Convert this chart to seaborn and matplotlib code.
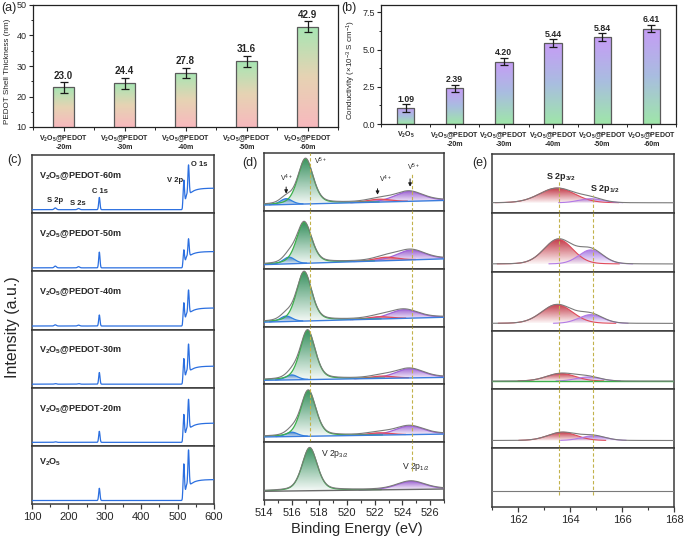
import numpy as np
import pandas as pd
import matplotlib
matplotlib.use("Agg")
import matplotlib.pyplot as plt
import seaborn as sns
from matplotlib.colors import LinearSegmentedColormap, to_rgba
from matplotlib.ticker import MultipleLocator, FormatStrFormatter

# ------------------------------------------------------------------ data
# (a) PEDOT shell thickness
thick_labels = ["V$_\\mathbf{2}$O$_\\mathbf{5}$@PEDOT\n-20m",
                "V$_\\mathbf{2}$O$_\\mathbf{5}$@PEDOT\n-30m",
                "V$_\\mathbf{2}$O$_\\mathbf{5}$@PEDOT\n-40m",
                "V$_\\mathbf{2}$O$_\\mathbf{5}$@PEDOT\n-50m",
                "V$_\\mathbf{2}$O$_\\mathbf{5}$@PEDOT\n-60m"]
thick_values = [23.0, 24.4, 27.8, 31.6, 42.9]
thick_errors = [1.8, 1.8, 1.7, 1.8, 1.8]

# (b) conductivity
cond_labels = ["V$_\\mathbf{2}$O$_\\mathbf{5}$"] + thick_labels
cond_values = [1.09, 2.39, 4.20, 5.44, 5.84, 6.41]
cond_errors = [0.25, 0.25, 0.25, 0.25, 0.25, 0.25]

# stacked spectra, top to bottom
sample_names = ["V$_\\mathbf{2}$O$_\\mathbf{5}$@PEDOT-60m",
                "V$_\\mathbf{2}$O$_\\mathbf{5}$@PEDOT-50m",
                "V$_\\mathbf{2}$O$_\\mathbf{5}$@PEDOT-40m",
                "V$_\\mathbf{2}$O$_\\mathbf{5}$@PEDOT-30m",
                "V$_\\mathbf{2}$O$_\\mathbf{5}$@PEDOT-20m",
                "V$_\\mathbf{2}$O$_\\mathbf{5}$"]

# (c) survey spectra: peak positions (eV), widths and peak tops read per panel
surv_pos = [164, 228, 285, 517, 524.5, 530]          # S2p, S2s, C1s, V2p3/2, V2p1/2, O1s
surv_sig = [3.0, 3.0, 1.8, 1.8, 1.6, 1.8]
surv_base = [0.06, 0.06, 0.06, 0.06, 0.06, 0.06]
surv_plateau = [0.43, 0.34, 0.37, 0.37, 0.39, 0.42]
surv_s2p = [0.09, 0.09, 0.08, 0.07, 0.07, 0.06]
surv_s2s = [0.08, 0.08, 0.075, 0.07, 0.06, 0.06]
surv_c1s = [0.27, 0.33, 0.25, 0.26, 0.25, 0.27]
surv_v2p = [0.57, 0.37, 0.46, 0.50, 0.54, 0.69]
surv_v2p12 = [0.31, 0.25, 0.27, 0.28, 0.29, 0.32]
surv_o1s = [0.83, 0.56, 0.68, 0.75, 0.80, 0.93]

# (d) V 2p fitted components (centre eV, height above baseline)
d_bl_left = [0.10, 0.07, 0.075, 0.07, 0.09, 0.15]
d_bl_right = [0.18, 0.17, 0.16, 0.12, 0.14, 0.19]
d_v4_32_c = [515.6, 515.8, 515.6, 516.0, 516.0, 516.0]
d_v4_32_h = [0.10, 0.115, 0.095, 0.085, 0.075, 0.0]
d_v5_32_c = [517.0, 516.9, 516.9, 517.15, 517.2, 517.3]
d_v5_32_h = [0.78, 0.71, 0.85, 0.85, 0.79, 0.74]
d_v4_12_c = [522.3, 522.8, 522.3, 522.5, 522.3, 522.5]
d_v4_12_h = [0.05, 0.06, 0.04, 0.04, 0.04, 0.0]
d_v5_12_c = [524.45, 524.6, 524.1, 524.5, 524.5, 524.6]
d_v5_12_h = [0.17, 0.17, 0.15, 0.16, 0.15, 0.14]

# (e) S 2p fitted components
e_bl = [0.17, 0.13, 0.12, 0.14, 0.13, 0.27]
e_s32_c = [163.5, 163.55, 163.5, 163.65, 163.7, 163.6]
e_s32_h = [0.25, 0.42, 0.32, 0.13, 0.14, 0.0]
e_s32_w = [1.6, 1.3, 1.4, 1.3, 1.3, 1.3]
e_s12_c = [164.8, 164.8, 164.8, 164.7, 164.9, 164.9]
e_s12_h = [0.07, 0.24, 0.15, 0.07, 0.08, 0.0]
e_s12_w = [1.1, 1.1, 1.1, 1.1, 1.1, 1.1]

# ------------------------------------------------------------------ style
sns.set_theme(style="ticks")
plt.rcParams['font.family'] = ['Liberation Sans', 'DejaVu Sans']
plt.rcParams['mathtext.fontset'] = 'custom'
plt.rcParams['mathtext.rm'] = 'Liberation Sans'
plt.rcParams['mathtext.it'] = 'Liberation Sans:italic'
plt.rcParams['mathtext.bf'] = 'Liberation Sans:bold'
plt.rcParams['axes.linewidth'] = 0.9

W, H = 685, 540
fig = plt.figure(figsize=(W / 100, H / 100), dpi=100)


def ax_px(l, t, r, b):
    return fig.add_axes([l / W, 1 - b / H, (r - l) / W, (b - t) / H])


def stack(l, t, r, b, n=6):
    h = (b - t) / n
    return [ax_px(l, t + i * h, r, t + (i + 1) * h) for i in range(n)]


def pv(x, c, fwhm, eta):
    u = (x - c) / fwhm
    return eta / (1 + 4 * u ** 2) + (1 - eta) * np.exp(-4 * np.log(2) * u ** 2)


def grad_fill(ax, x, y0, y1, color, a0=0.04, a1=0.95, z=1):
    poly = ax.fill_between(x, y0, y1, facecolor='none', edgecolor='none', zorder=z)
    path = poly.get_paths()[0]
    c = to_rgba(color)
    cmap = LinearSegmentedColormap.from_list('gf', [(c[0], c[1], c[2], a0), (c[0], c[1], c[2], a1)])
    ymin, ymax = float(np.min(y0)), float(np.max(y1))
    im = ax.imshow(np.linspace(0, 1, 128).reshape(-1, 1), extent=[x.min(), x.max(), ymin, ymax],
                   origin='lower', cmap=cmap, aspect='auto', interpolation='bilinear', zorder=z)
    im.set_clip_path(path, transform=ax.transData)


def bar_gradient(ax, colors, ybottom):
    cmap = LinearSegmentedColormap.from_list('bar', colors)
    grad = np.linspace(0, 1, 256).reshape(-1, 1)
    for p in list(ax.patches):
        x0, w = p.get_x(), p.get_width()
        y1 = p.get_y() + p.get_height()
        y0 = max(p.get_y(), ybottom)
        im = ax.imshow(grad, extent=[x0, x0 + w, y0, y1], origin='lower', cmap=cmap,
                       aspect='auto', interpolation='bilinear', zorder=1.5)
        im.set_clip_path(p)
        p.set_facecolor('none')
        p.set_zorder(2)


def line(ax, x, y, color, lw, z=3):
    sns.lineplot(x=x, y=y, ax=ax, color=color, linewidth=lw, estimator=None,
                 legend=False, zorder=z)


SPINE_C = '#3a3a3a'


def style_stack(axes, xlim, major, minor, labelsize=8):
    for i, ax in enumerate(axes):
        ax.set_xlim(*xlim)
        ax.set_ylim(0, 1)
        ax.set_aspect('auto')
        ax.set_yticks([])
        ax.set_ylabel('')
        ax.set_xlabel('')
        for s in ax.spines.values():
            s.set_color(SPINE_C)
            s.set_linewidth(1.1)
        ax.xaxis.set_major_locator(MultipleLocator(major))
        ax.xaxis.set_minor_locator(MultipleLocator(minor))
        if i < len(axes) - 1:
            ax.tick_params(axis='x', which='both', bottom=False, labelbottom=False)
        else:
            ax.tick_params(axis='x', which='major', direction='out', length=3.5, width=0.9,
                           labelsize=labelsize, pad=2, color=SPINE_C)
            ax.tick_params(axis='x', which='minor', direction='out', length=2, width=0.8,
                           color=SPINE_C)


def style_bar_axes(ax):
    ax.tick_params(axis='both', which='major', direction='out', length=3, width=0.8, pad=1.5)
    ax.tick_params(axis='y', which='major', labelsize=6.5)
    ax.tick_params(axis='both', which='minor', direction='out', length=1.8, width=0.7)
    for s in ax.spines.values():
        s.set_color('#222222')


# ------------------------------------------------------------------ (a)
axa = ax_px(33, 5, 338, 127)
df_a = pd.DataFrame({'label': thick_labels, 'value': thick_values})
sns.barplot(data=df_a, x='label', y='value', ax=axa, color='white', saturation=1,
            width=0.35, edgecolor='#5a5a5a', linewidth=0.9, errorbar=None)
bar_gradient(axa, ['#f8b9be', '#e6d3b3', '#a6e6b3'], 10)
axa.errorbar(range(len(thick_values)), thick_values, yerr=thick_errors, fmt='none',
             ecolor='k', elinewidth=0.9, capsize=3.2, capthick=0.9, zorder=4)
for i, (v, e) in enumerate(zip(thick_values, thick_errors)):
    axa.text(i, v + e + 0.4, f"{v:.1f}", ha='center', va='bottom', fontsize=7, fontweight='bold')
axa.set_xlim(-0.5, 4.5)
axa.set_ylim(10, 50)
axa.set_aspect('auto')
axa.yaxis.set_major_locator(MultipleLocator(10))
axa.yaxis.set_minor_locator(MultipleLocator(5))
axa.xaxis.set_minor_locator(MultipleLocator(0.5))
style_bar_axes(axa)
axa.set_xticks(range(5))
axa.set_xticklabels(thick_labels, fontsize=5, fontweight='bold', linespacing=1.0)
axa.set_xlabel('')
axa.set_ylabel('PEDOT Shell Thickness (nm)', fontsize=5.9)
axa.yaxis.set_label_coords(-0.072, 0.46)
fig.text(9 / W, 1 - 8 / H, '(a)', fontsize=9, ha='center', va='center')

# ------------------------------------------------------------------ (b)
axb = ax_px(381, 5, 676, 124)
df_b = pd.DataFrame({'label': cond_labels, 'value': cond_values})
sns.barplot(data=df_b, x='label', y='value', ax=axb, color='white', saturation=1,
            width=0.35, edgecolor='#5a5a5a', linewidth=0.9, errorbar=None)
bar_gradient(axb, ['#9fe6a9', '#a9bde0', '#c69cf6'], 0)
axb.errorbar(range(len(cond_values)), cond_values, yerr=cond_errors, fmt='none',
             ecolor='k', elinewidth=0.9, capsize=3.0, capthick=0.9, zorder=4)
for i, (v, e) in enumerate(zip(cond_values, cond_errors)):
    axb.text(i, v + e + 0.03, f"{v:.2f}", ha='center', va='bottom', fontsize=6.3, fontweight='bold')
axb.set_xlim(-0.5, 5.5)
axb.set_ylim(0, 8.0)
axb.set_aspect('auto')
axb.yaxis.set_major_locator(MultipleLocator(2.5))
axb.yaxis.set_minor_locator(MultipleLocator(1.25))
axb.yaxis.set_major_formatter(FormatStrFormatter('%.1f'))
axb.xaxis.set_minor_locator(MultipleLocator(0.5))
style_bar_axes(axb)
axb.set_xticks(range(6))
axb.set_xticklabels(cond_labels, fontsize=5, fontweight='bold', linespacing=1.0)
axb.set_xlabel('')
axb.set_ylabel('Conductivity (\u00d710$^{-3}$ S cm$^{-1}$)', fontsize=5.8)
axb.yaxis.set_label_coords(-0.078, 0.455)
fig.text(349 / W, 1 - 8 / H, '(b)', fontsize=9, ha='center', va='center')

# ------------------------------------------------------------------ (c) survey
axc = stack(32, 155, 214, 504)
xs = np.arange(100, 600.01, 0.5)


def surv_bkg(x, base, plat):
    return base + (plat - base) * np.clip(1 - np.exp(-(np.asarray(x) - 513) / 15), 0, None)


for i, ax in enumerate(axc):
    base, plat = surv_base[i], surv_plateau[i]
    bkg = surv_bkg(xs, base, plat)
    y = bkg.copy()
    tops = [surv_s2p[i], surv_s2s[i], surv_c1s[i], surv_v2p[i], surv_v2p12[i], surv_o1s[i]]
    for pos, sg, top in zip(surv_pos, surv_sig, tops):
        h = max(top - float(surv_bkg(pos, base, plat)), 0)
        y = y + h * np.exp(-0.5 * ((xs - pos) / sg) ** 2)
    line(ax, xs, y, '#2b6fe0', 0.9)
    ytxt = 0.71 if i == 5 else 0.64
    ax.text(119, ytxt, sample_names[i], fontsize=6.5, fontweight='bold', ha='left', va='center')
style_stack(axc, (100, 600), 100, 50)
top = axc[0]
for txt, xx, yy in [('S 2p', 164.6, 0.21), ('S 2s', 226, 0.17), ('C 1s', 287, 0.38),
                    ('V 2p', 493, 0.57), ('O 1s', 559, 0.83)]:
    top.text(xx, yy, txt, fontsize=5.5, fontweight='bold', ha='center', va='center')
fig.text(15 / W, 1 - 160 / H, '(c)', fontsize=9, ha='center', va='center')
fig.text(13 / W, 1 - 327 / H, 'Intensity (a.u.)', fontsize=11.5, rotation=90, ha='center', va='center')

# ------------------------------------------------------------------ (d) V 2p
axd = stack(264, 153, 444, 500)
xd = np.linspace(514, 527, 651)
col_blue, col_green, col_red, col_purple = '#3a78d8', '#2e8b57', '#e0506a', '#9a5fd0'
line_blue, line_green, line_red, line_purple = '#2f7fe0', '#3cb04b', '#e04a5a', '#a064d8'
for i, ax in enumerate(axd):
    bl = d_bl_left[i] + (d_bl_right[i] - d_bl_left[i]) * (xd - 514) / 13
    comps = [(d_v5_12_c[i], d_v5_12_h[i], 2.4, 0.3, col_purple, line_purple),
             (d_v4_12_c[i], d_v4_12_h[i], 2.0, 0.2, col_red, line_red),
             (d_v4_32_c[i], d_v4_32_h[i], 1.0, 0.2, col_blue, line_blue),
             (d_v5_32_c[i], d_v5_32_h[i], 1.3, 0.35, col_green, line_green)]
    env = bl.copy()
    for c, h, fw, eta, fc, lc in comps:
        if h <= 0:
            continue
        comp = h * pv(xd, c, fw, eta)
        env = env + comp
        m = comp > 0.004
        grad_fill(ax, xd[m], bl[m], bl[m] + comp[m], fc)
        line(ax, xd[m], bl[m] + comp[m], lc, 0.9, z=3)
    line(ax, xd, bl, '#3b7ddd' if i < 5 else '#6a6a6a', 1.0, z=3.5)
    line(ax, xd, env + 0.008, '#7a7a7a', 0.8, z=4)
    if i < 5:
        ax.axvline(517.35, color='#c2b24a', lw=0.8, ls=(0, (3, 2)), zorder=5)
        ax.axvline(524.7, color='#c2b24a', lw=0.8, ls=(0, (3, 2)), zorder=5,
                   ymax=0.66 if i == 0 else 1)
    else:
        ax.axvline(524.7, color='#c2b24a', lw=0.8, ls=(0, (3, 2)), zorder=5, ymin=0.5)
style_stack(axd, (514, 527), 2, 1)
d0 = axd[0]
d0.text(515.6, 0.56, 'V$^{4+}$', fontsize=5, ha='center', va='center')
d0.annotate('', xy=(515.6, 0.25), xytext=(515.6, 0.46),
            arrowprops=dict(arrowstyle='-|>', color='k', lw=0.7, mutation_scale=5))
d0.text(518.1, 0.85, 'V$^{5+}$', fontsize=5, ha='center', va='center')
d0.text(522.8, 0.54, 'V$^{4+}$', fontsize=5, ha='center', va='center')
d0.annotate('', xy=(522.2, 0.23), xytext=(522.2, 0.43),
            arrowprops=dict(arrowstyle='-|>', color='k', lw=0.7, mutation_scale=5))
d0.text(524.8, 0.75, 'V$^{5+}$', fontsize=5, ha='center', va='center')
d0.annotate('', xy=(524.55, 0.37), xytext=(524.55, 0.6),
            arrowprops=dict(arrowstyle='-|>', color='k', lw=0.7, mutation_scale=5))
d5 = axd[5]
d5.text(518.15, 0.8, 'V 2p$_{3/2}$', fontsize=6.2, ha='left', va='center')
d5.text(523.95, 0.57, 'V 2p$_{1/2}$', fontsize=6.2, ha='left', va='center')
fig.text(250 / W, 1 - 163 / H, '(d)', fontsize=9, ha='center', va='center')
fig.text(357 / W, 1 - 529 / H, 'Binding Energy (eV)', fontsize=10.5, ha='center', va='center')

# ------------------------------------------------------------------ (e) S 2p
axe = stack(492, 154, 674, 507)
xe = np.linspace(161, 168, 561)
for i, ax in enumerate(axe):
    bl = np.full_like(xe, e_bl[i])
    comps = [(e_s32_c[i], e_s32_h[i], e_s32_w[i], '#c0303f', '#e04a5a'),
             (e_s12_c[i], e_s12_h[i], e_s12_w[i], '#a070e0', '#b27ae6')]
    env = bl.copy()
    for c, h, fw, fc, lc in comps:
        if h <= 0:
            continue
        comp = h * pv(xe, c, fw, 0.1)
        env = env + comp
        m = comp > 0.003
        grad_fill(ax, xe[m], bl[m], bl[m] + comp[m], fc)
        line(ax, xe[m], bl[m] + comp[m], lc, 0.8, z=3)
    if i == 3:
        line(ax, xe, bl, '#3cb04b', 1.0, z=3.5)
    line(ax, xe, env, '#7a7a7a', 0.8, z=4)
    ymax1 = 0.55 if i == 0 else 1
    ymax2 = 0.3 if i == 0 else 1
    ymin = 0.2 if i == 5 else 0
    ax.axvline(163.58, color='#c2b24a', lw=0.8, ls=(0, (3, 2)), zorder=5, ymin=ymin, ymax=ymax1)
    ax.axvline(164.9, color='#c2b24a', lw=0.8, ls=(0, (3, 2)), zorder=5, ymin=ymin, ymax=ymax2)
style_stack(axe, (161, 168), 2, 1)
axe[0].text(163.65, 0.61, 'S 2p$_\\mathbf{3/2}$', fontsize=6.5, fontweight='bold', ha='center', va='center')
axe[0].text(164.77, 0.40, 'S 2p$_\\mathbf{1/2}$', fontsize=6.5, fontweight='bold', ha='left', va='center')
fig.text(480 / W, 1 - 163 / H, '(e)', fontsize=9, ha='center', va='center')

fig.savefig('out.png', dpi=100)
